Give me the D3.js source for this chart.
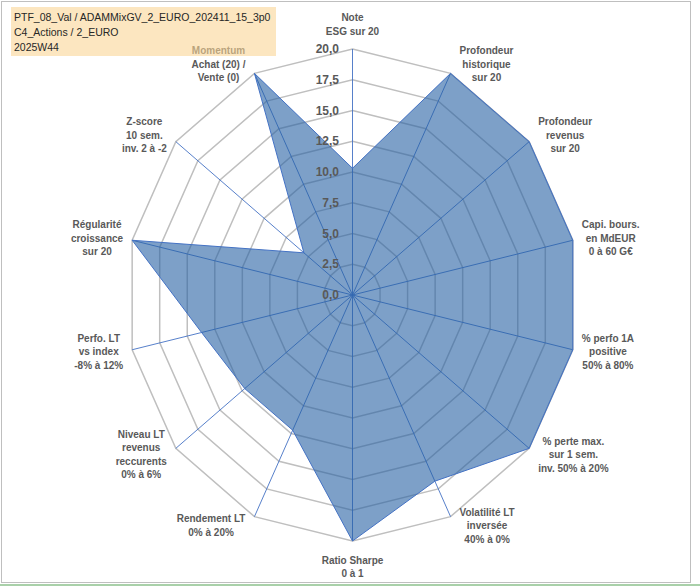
<!DOCTYPE html>
<html>
<head>
<meta charset="utf-8">
<script src="https://cdn.jsdelivr.net/npm/d3@7"></script>
<style>
  body { margin: 0; background: #fff; }
  svg { display: block; font-family: "Liberation Sans", Arial, sans-serif; }
</style>
</head>
<body>
<svg id="chart" width="700" height="586"></svg>
<script>
// axis labels (one array of lines per axis, clockwise from top)
const axes = [
  ["Note", "ESG sur 20"],
  ["Profondeur", "historique", "sur 20"],
  ["Profondeur", "revenus", "sur 20"],
  ["Capi. bours.", "en MdEUR", "0 à 60 G€"],
  ["% perfo 1A", "positive", "50% à 80%"],
  ["% perte max.", "sur 1 sem.", "inv. 50% à 20%"],
  ["Volatilité LT", "inversée", "40% à 0%"],
  ["Ratio Sharpe", "0 à 1"],
  ["Rendement LT", "0% à 20%"],
  ["Niveau LT", "revenus", "reccurents", "0% à 6%"],
  ["Perfo. LT", "vs index", "-8% à 12%"],
  ["Régularité", "croissance", "sur 20"],
  ["Z-score", "10 sem.", "inv. 2 à -2"],
  ["Momentum", "Achat (20) /", "Vente (0)"]
];
const values = [10.3, 20, 20, 20, 20, 20, 16.8, 20, 12.2, 12.2, 13.7, 20, 5.5, 20];
const ticks = [0, 2.5, 5, 7.5, 10, 12.5, 15, 17.5, 20];
const titleLines = ["PTF_08_Val / ADAMMixGV_2_EURO_202411_15_3p0", "C4_Actions / 2_EURO", "2025W44"];

const svg = d3.select("#chart");
const cx = 352.5, cy = 295;
// the picture is a little squeezed horizontally
const rX = d3.scaleLinear().domain([0, 20]).range([0, 226]);
const rY = d3.scaleLinear().domain([0, 20]).range([0, 246]);
const angle = d3.scaleLinear().domain([0, axes.length]).range([0, 2 * Math.PI]);

const pt = (i, v) => [cx + rX(v) * Math.sin(angle(i)), cy - rY(v) * Math.cos(angle(i))];
const fr = d3.formatLocale({decimal: ",", thousands: " ", grouping: [3], currency: ["", "€"]});
const fmt = fr.format(".1f");

// frame
svg.append("rect").attr("x", 1.5).attr("y", 1.5).attr("width", 689).attr("height", 581)
  .attr("fill", "#fff").attr("stroke", "#bfbfbf");
svg.append("line").attr("x1", 0).attr("x2", 700).attr("y1", 585).attr("y2", 585)
  .attr("stroke", "#8cc08c").attr("stroke-width", 1.5);

const line = d3.line().curve(d3.curveLinearClosed);

// rings
svg.append("g").selectAll("path")
  .data(ticks.filter(t => t > 0))
  .join("path")
  .attr("d", t => line(axes.map((a, i) => pt(i, t))))
  .attr("fill", "none")
  .attr("stroke", "#bfbfbf")
  .attr("stroke-width", 1.5);

// spokes
svg.append("g").selectAll("line")
  .data(axes)
  .join("line")
  .attr("x1", cx).attr("y1", cy)
  .attr("x2", (d, i) => pt(i, 20)[0])
  .attr("y2", (d, i) => pt(i, 20)[1])
  .attr("stroke", "#4472c4")
  .attr("stroke-width", 0.9);

// data area
svg.append("path")
  .attr("d", line(values.map((v, i) => pt(i, v))))
  .attr("fill", "rgb(38,97,164)")
  .attr("fill-opacity", 0.6)
  .attr("stroke", "#4472c4")
  .attr("stroke-width", 1);

// tick labels
svg.append("g").selectAll("text")
  .data(ticks)
  .join("text")
  .attr("x", 339)
  .attr("y", t => cy - rY(t))
  .attr("dy", "0.35em")
  .attr("text-anchor", "end")
  .attr("font-size", 12)
  .attr("font-weight", "bold")
  .attr("fill", "#595959")
  .text(t => fmt(t));

// axis labels
const lh = 13.5;
const lab = svg.append("g");
axes.forEach((lines, i) => {
  const [vx, vy] = pt(i, 20);
  const s = Math.sin(angle(i)), c = Math.cos(angle(i));
  const g = lab.append("g");
  const tx = g.selectAll("text").data(lines).join("text")
    .attr("text-anchor", "middle")
    .attr("font-size", 10)
    .attr("font-weight", "bold")
    .attr("fill", "#595959")
    .attr("dy", "0.35em")
    .text(d => d);
  const w = d3.max(tx.nodes(), n => n.getComputedTextLength());
  const n = lines.length;
  let mx, my;
  if (Math.abs(s) > 0.1) {
    mx = vx + Math.sign(s) * (w / 2 + 9);
    my = vy - c * 10;
  } else if (c > 0) {
    mx = vx;
    my = vy - 18 - (n - 1) * lh / 2;
  } else {
    mx = vx;
    my = vy + 19 + (n - 1) * lh / 2;
  }
  tx.attr("x", mx).attr("y", (d, k) => my + (k - (n - 1) / 2) * lh);
});

// title box
svg.append("rect").attr("x", 11).attr("y", 7).attr("width", 265).attr("height", 49)
  .attr("fill", "rgb(250,213,150)").attr("fill-opacity", 0.6);
svg.append("g").selectAll("text")
  .data(titleLines)
  .join("text")
  .attr("x", 14)
  .attr("y", (d, i) => 21 + i * 15.2)
  .attr("font-size", 10.5)
  .attr("fill", "#262626")
  .text(d => d);
</script>
</body>
</html>
